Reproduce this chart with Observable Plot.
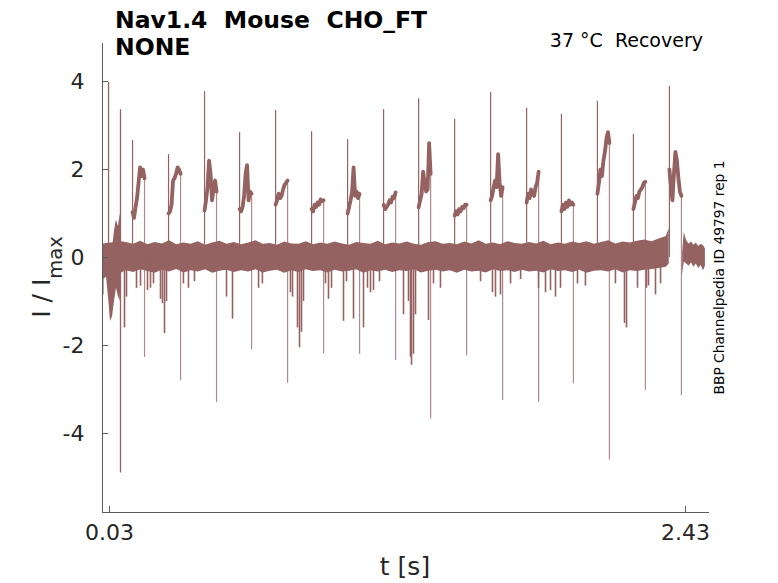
<!DOCTYPE html>
<html><head><meta charset="utf-8">
<script src="https://cdn.jsdelivr.net/npm/d3@7"></script>
<script src="https://cdn.jsdelivr.net/npm/@observablehq/plot@0.6"></script>
<style>
body{margin:0;background:#fff;}
#wrap{position:relative;width:778px;height:583px;}
</style></head><body><div id="wrap"></div>
<script>
const xDomain = [0.0008, 2.53];
const yDomain = [-5.795, 4.864];
const xTicks = [0.03, 2.43];
const yTicks = [-4, -2, 0, 2, 4];

// test pulses: onset, end, peak, end down-spike, plateau samples
const pulseOn  = [0.126, 0.276, 0.426, 0.572, 0.722, 0.872, 1.022, 1.172, 1.318, 1.468, 1.618, 1.768, 1.913, 2.063, 2.213, 2.363];
const pulseOff = [0.176, 0.326, 0.476, 0.622, 0.772, 0.922, 1.072, 1.222, 1.368, 1.518, 1.668, 1.818, 1.963, 2.113, 2.263, 2.413];
const pulsePeak = [2.66, 2.34, 3.77, 2.84, 3.34, 2.86, 2.68, 3.36, 3.61, 3.14, 3.75, 3.39, 3.25, 3.55, 2.8, 3.89];
const pulseDown = [-2.27, -2.8, -3.3, -2.1, -2.86, -2.19, -2.2, -2.34, -3.67, -2.23, -3.25, -3.29, -2.87, -4.6, -3.02, -3.14];
const plateaus = [
  [1.03, 0.9, 1.15, 1.35, 1.7, 2.05, 1.85, 2.0, 1.8],
  [1.0, 1.05, 1.2, 1.75, 1.8, 1.9, 2.05, 2.0, 1.9],
  [1.07, 1.3, 1.6, 2.2, 1.9, 1.3, 1.55, 1.75, 1.5],
  [1.1, 1.05, 1.15, 1.4, 1.9, 2.1, 1.3, 1.5, 1.45],
  [1.2, 1.3, 1.45, 1.35, 1.4, 1.55, 1.65, 1.7, 1.75],
  [1.1, 1.05, 1.2, 1.15, 1.25, 1.2, 1.32, 1.28, 1.3],
  [1.0, 1.15, 1.3, 1.5, 2.05, 1.4, 1.5, 1.35, 1.45],
  [1.2, 1.1, 1.15, 1.2, 1.3, 1.25, 1.38, 1.35, 1.48],
  [1.14, 1.3, 1.45, 1.95, 1.7, 1.5, 1.55, 2.6, 1.9],
  [0.95, 1.05, 0.98, 1.1, 1.05, 1.15, 1.12, 1.2, 1.2],
  [1.3, 1.4, 1.6, 1.75, 1.6, 2.35, 1.7, 1.4, 1.6],
  [1.25, 1.45, 1.35, 1.55, 1.45, 1.4, 1.6, 1.7, 1.95],
  [1.05, 1.2, 1.1, 1.25, 1.15, 1.3, 1.2, 1.25, 1.2],
  [1.45, 1.7, 2.0, 1.85, 2.2, 2.4, 2.7, 2.85, 2.6],
  [1.1, 1.25, 1.4, 1.35, 1.5, 1.55, 1.6, 1.7, 1.72],
  [2.0, 1.6, 1.3, 1.9, 2.4, 2.2, 1.8, 1.5, 1.4]
];

// conditioning spikes at start
const spikeT  = [0.026, 0.0758];
const spikeHi = [3.98, 3.36];
const spikeLo = [-0.9, -4.9];

// start artefact envelope
const startT  = [0.005, 0.0175, 0.026, 0.034, 0.0425, 0.0508, 0.059, 0.0675, 0.074, 0.08];
const startHi = [0.3, 0.3, 0.25, 0.1, 0.2, 0.6, 0.85, 0.7, 1.0, 0.35];
const startLo = [-0.5, -0.45, -0.9, -1.45, -1.35, -1.0, -0.7, -0.9, -1.0, -0.35];

// baseline noise envelope
const bandT = [
  0.002, 0.02, 0.08, 0.10, 0.13, 0.16, 0.19, 0.22, 0.25, 0.28,
  0.31, 0.34, 0.37, 0.40, 0.43, 0.46, 0.49, 0.52, 0.55, 0.58,
  0.61, 0.64, 0.67, 0.70, 0.73, 0.76, 0.79, 0.82, 0.85, 0.88,
  0.91, 0.94, 0.97, 1.00, 1.03, 1.06, 1.09, 1.12, 1.15, 1.18,
  1.21, 1.24, 1.27, 1.30, 1.33, 1.36, 1.39, 1.42, 1.45, 1.48,
  1.51, 1.54, 1.57, 1.60, 1.63, 1.66, 1.69, 1.72, 1.75, 1.78,
  1.81, 1.84, 1.87, 1.90, 1.93, 1.96, 1.99, 2.02, 2.05, 2.08,
  2.11, 2.14, 2.17, 2.20, 2.23, 2.26, 2.29, 2.32, 2.35, 2.362
];
const bandHi = [
  0.30, 0.32, 0.36, 0.34, 0.30, 0.37, 0.29, 0.34, 0.31, 0.38,
  0.29, 0.33, 0.30, 0.36, 0.28, 0.33, 0.37, 0.30, 0.34, 0.29,
  0.33, 0.38, 0.30, 0.32, 0.28, 0.35, 0.31, 0.30, 0.36, 0.29,
  0.33, 0.30, 0.35, 0.31, 0.28, 0.34, 0.32, 0.30, 0.37, 0.29,
  0.33, 0.31, 0.35, 0.30, 0.28, 0.34, 0.36, 0.30, 0.32, 0.29,
  0.35, 0.31, 0.38, 0.30, 0.33, 0.29, 0.36, 0.32, 0.30, 0.34,
  0.31, 0.37, 0.29, 0.33, 0.30, 0.35, 0.32, 0.36, 0.30, 0.34,
  0.38, 0.31, 0.35, 0.33, 0.37, 0.40, 0.36, 0.42, 0.48, 0.66
];
const bandLo = [
  -0.45, -0.40, -0.35, -0.30, -0.34, -0.28, -0.32, -0.36, -0.29, -0.33,
  -0.27, -0.35, -0.30, -0.33, -0.28, -0.36, -0.31, -0.29, -0.34, -0.30,
  -0.33, -0.28, -0.35, -0.31, -0.29, -0.36, -0.30, -0.34, -0.28, -0.32,
  -0.30, -0.35, -0.29, -0.33, -0.31, -0.28, -0.36, -0.30, -0.33, -0.29,
  -0.34, -0.30, -0.32, -0.28, -0.35, -0.31, -0.29, -0.33, -0.30, -0.36,
  -0.29, -0.33, -0.31, -0.35, -0.28, -0.32, -0.30, -0.34, -0.29, -0.33,
  -0.31, -0.35, -0.28, -0.32, -0.30, -0.34, -0.29, -0.36, -0.31, -0.30,
  -0.33, -0.28, -0.35, -0.30, -0.32, -0.29, -0.27, -0.25, -0.22, -0.15
];

// tail after last pulse
const tailT  = [2.418, 2.425, 2.435, 2.445, 2.455, 2.465, 2.475, 2.485, 2.495, 2.505, 2.513];
const tailHi = [0.1, 0.57, 0.38, 0.3, 0.35, 0.28, 0.33, 0.25, 0.3, 0.27, 0.2];
const tailLo = [-0.4, -0.1, -0.15, -0.2, -0.12, -0.22, -0.15, -0.25, -0.18, -0.3, -0.2];

// negative excursions
const dipT = [0.002, 0.0925, 0.1008, 0.1425, 0.1592, 0.1883, 0.2008, 0.2133, 0.2425, 0.2508, 0.2592, 0.2675,
  0.338, 0.359, 0.384, 0.5175, 0.5425, 0.651, 0.667, 0.784, 0.7925, 0.8133, 0.8217, 0.83, 0.8383, 0.93, 0.9425, 0.955,
  1.005, 1.0175, 1.0467, 1.0883, 1.105, 1.1175, 1.13, 1.155, 1.255, 1.2758, 1.2842, 1.2883, 1.2967, 1.305, 1.3592, 1.38, 1.409,
  1.576, 1.6258, 1.6383, 1.6592, 1.701, 1.743, 1.8175, 1.8467, 1.8675, 1.8883, 1.9092, 1.98, 2.013, 2.138, 2.1758, 2.1842,
  2.23, 2.2675, 2.2758, 2.305, 2.326];
const dipY = [-0.85, -1.6, -0.9, -0.7, -0.65, -0.75, -0.7, -0.6, -0.95, -1.05, -1.73, -1.0,
  -0.6, -0.7, -0.55, -0.9, -1.4, -0.7, -0.6, -0.8, -0.9, -1.6, -2.05, -1.7, -1.0, -0.6, -0.95, -0.7,
  -1.45, -0.55, -1.4, -1.6, -0.7, -0.8, -0.75, -0.55, -1.3, -1.0, -2.27, -2.45, -2.2, -1.3, -1.43, -0.6, -0.7,
  -0.55, -0.8, -0.9, -0.85, -0.6, -0.5, -0.7, -0.8, -0.75, -0.9, -0.7, -0.6, -0.65, -0.6, -1.5, -1.6,
  -0.7, -0.7, -0.65, -0.85, -0.6];

const titleLines = ["Nav1.4  Mouse  CHO_FT", "NONE"];
const subtitle = "37 °C  Recovery";
const sideNote = "BBP Channelpedia ID 49797 rep 1";
const xLabel = "t [s]";

const C = "#956262";
const band = bandT.map((t, i) => ({t, hi: bandHi[i], lo: bandLo[i]}));
const start = startT.map((t, i) => ({t, hi: startHi[i], lo: startLo[i]}));
const tail = tailT.map((t, i) => ({t, hi: tailHi[i], lo: tailLo[i]}));
const dips = dipT.map((t, i) => ({t, y: dipY[i]}));
const spikes = spikeT.map((t, i) => ({t, hi: spikeHi[i], lo: spikeLo[i]}));
const pulses = pulseOn.map((t, i) => ({on: t, off: pulseOff[i], peak: pulsePeak[i], down: pulseDown[i], last: plateaus[i][plateaus[i].length - 1]}));
const plat = plateaus.flatMap((p, i) => p.map((v, j) => ({t: pulseOn[i] + (pulseOff[i] - pulseOn[i]) * j / (p.length - 1), v, i})));

const axisColor = "#5a5a5a";
const txt = "#262626";

const plot = Plot.plot({
  width: 778, height: 583,
  marginLeft: 102, marginRight: 69, marginTop: 43, marginBottom: 71,
  x: {domain: xDomain},
  y: {domain: yDomain},
  style: {fontFamily: "DejaVu Sans", background: "white", color: txt},
  marks: [
    Plot.areaY(band, {x: "t", y1: "lo", y2: "hi", fill: C}),
    Plot.areaY(start, {x: "t", y1: "lo", y2: "hi", fill: C}),
    Plot.areaY(tail, {x: "t", y1: "lo", y2: "hi", fill: C}),
    Plot.ruleX(dips, {x: "t", y1: 0, y2: "y", stroke: C, strokeWidth: 1.6}),
    Plot.ruleX(spikes, {x: "t", y1: "lo", y2: "hi", stroke: C, strokeWidth: 1.3}),
    Plot.ruleX(pulses, {x: "on", y1: 0, y2: "peak", stroke: C, strokeWidth: 1.2}),
    Plot.line(plat, {x: "t", y: "v", z: "i", stroke: C, strokeWidth: 3.8, strokeLinejoin: "round"}),
    Plot.ruleX(pulses, {x: "off", y1: "down", y2: "last", stroke: C, strokeWidth: 1.2, strokeOpacity: 0.75}),
    Plot.ruleY([yDomain[0]], {stroke: axisColor}),
    Plot.ruleX([xDomain[0]], {stroke: axisColor}),
    Plot.axisY({ticks: yTicks, tickSize: 6, dx: 6, tickFormat: () => "", stroke: axisColor}),
    Plot.axisY({ticks: yTicks, tickSize: 0, tickPadding: 18, fontSize: 22, fill: txt, tickFormat: d => String(d).replace("−", "-")}),
    Plot.axisX({ticks: xTicks, tickSize: 6, dy: -6, tickFormat: () => "", stroke: axisColor}),
    Plot.axisX({ticks: xTicks, tickSize: 0, tickPadding: 12, fontSize: 22, fill: txt, tickFormat: d3.format(".2f"), label: null}),
  ]
});
document.getElementById("wrap").appendChild(plot);

const svg = d3.select(plot);
const g = svg.append("g").attr("font-family", "DejaVu Sans").attr("text-anchor", "start");
g.append("text").attr("x", 115).attr("y", 28).attr("font-size", 23.5).attr("font-weight", "bold")
  .attr("text-anchor", "start").attr("fill", "#000").style("white-space", "pre").text(titleLines[0]);
g.append("text").attr("x", 115).attr("y", 55).attr("font-size", 23.5).attr("font-weight", "bold")
  .attr("text-anchor", "start").attr("fill", "#000").style("white-space", "pre").text(titleLines[1]);
g.append("text").attr("x", 703).attr("y", 47).attr("font-size", 19).attr("text-anchor", "end")
  .attr("fill", "#000").style("white-space", "pre").text(subtitle);
g.append("text").attr("transform", "translate(724,277.5) rotate(-90)").attr("font-size", 13.8)
  .attr("text-anchor", "middle").attr("fill", "#000").text(sideNote);
g.append("text").attr("x", 405).attr("y", 575).attr("font-size", 25).attr("text-anchor", "middle")
  .attr("fill", txt).text(xLabel);
const yl = g.append("text").attr("transform", "translate(50,277) rotate(-90)").attr("font-size", 25)
  .attr("text-anchor", "middle").attr("fill", txt).style("white-space", "pre");
yl.append("tspan").text("I / I");
yl.append("tspan").attr("font-size", 19.5).attr("dy", 12).text("max");
</script>
</body></html>
